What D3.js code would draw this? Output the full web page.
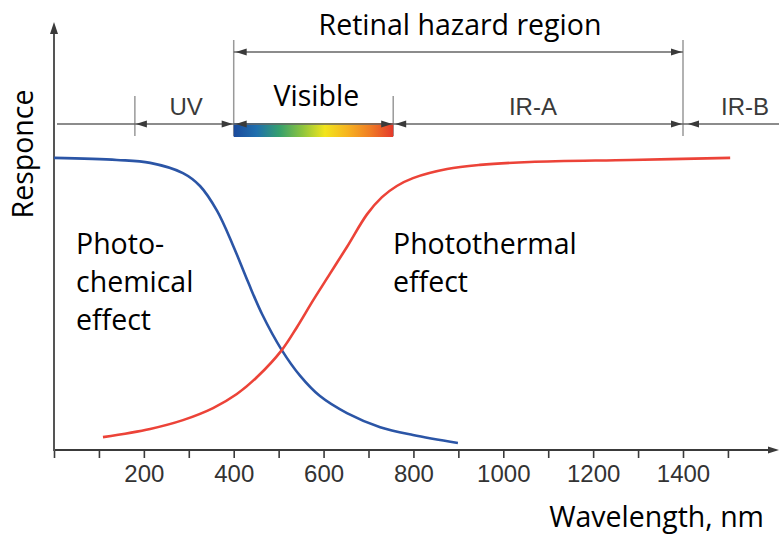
<!DOCTYPE html>
<html><head><meta charset="utf-8">
<script src="https://cdn.jsdelivr.net/npm/d3@7"></script>
<style>body{margin:0;background:#fff}</style>
</head><body><svg id="c" width="779" height="535"></svg>
<script>
// ---- data ----
const blueWavelength = [0, 140, 214, 287, 325, 363, 398, 432, 463, 507, 548, 592, 652, 726, 799, 899];
const blueResponse   = [99.7, 99.0, 98.0, 94.5, 90.1, 81.6, 70.0, 57.3, 46.4, 34.1, 25.3, 18.4, 12.6, 7.8, 5.1, 2.4];
const redWavelength  = [109, 214, 287, 354, 407, 452, 507, 541, 576, 614, 652, 697, 730, 763, 799, 875, 948, 1059, 1282, 1505];
const redResponse    = [4.4, 7.2, 10.2, 14.3, 19.1, 24.9, 34.1, 42.0, 50.9, 60.1, 69.3, 80.5, 86.3, 90.1, 92.8, 95.9, 97.3, 98.3, 99.0, 99.7];
const tickValues = [0, 100, 200, 300, 400, 500, 600, 700, 800, 900, 1000, 1100, 1200, 1300, 1400, 1500];
const tickLabels = ["", "", "200", "", "400", "", "600", "", "800", "", "1000", "", "1200", "", "1400", ""];
const regionBounds = [180, 400, 755, 1400];
const regionNames = ["UV", "Visible", "IR-A", "IR-B"];
const regionLabelAt = [294, 584, 1066, 1538];
const hazardRange = [400, 1400];
const spectrumStops = ["#1b4a9c", "#1f6fae", "#35a06e", "#8cc43e", "#f2e51c", "#f7b31f", "#f07c24", "#e4392b"];

// ---- layout ----
const svg = d3.select("#c");
const x = d3.scaleLinear().domain([0, 1400]).range([54, 683]);
const y = d3.scaleLinear().domain([0, 100]).range([450, 157]);
const axisY = 450, axisTop = 22, axisRight = 779;
const regionY = 124, hazardY = 52;
const dark = "#3a3a3a";

function arrow(tipX, tipY, dir, len = 11, hw = 3.6) {
  let p;
  if (dir === "left") p = [[tipX, tipY], [tipX + len, tipY - hw], [tipX + len, tipY + hw]];
  else if (dir === "right") p = [[tipX, tipY], [tipX - len, tipY - hw], [tipX - len, tipY + hw]];
  else if (dir === "up") p = [[tipX, tipY], [tipX - hw, tipY + len], [tipX + hw, tipY + len]];
  svg.append("path").attr("d", "M" + p.map(d => d.join(",")).join("L") + "Z").attr("fill", dark);
}

// gradient
const defs = svg.append("defs");
const grad = defs.append("linearGradient").attr("id", "spec").attr("x1", 0).attr("x2", 1).attr("y1", 0).attr("y2", 0);
spectrumStops.forEach((c, i) => grad.append("stop").attr("offset", i / (spectrumStops.length - 1)).attr("stop-color", c));

// x axis
const xAxis = d3.axisBottom(x).tickValues(tickValues).tickSize(8).tickPadding(7)
  .tickFormat((d, i) => tickLabels[i]);
const gx = svg.append("g").attr("transform", `translate(0,${axisY})`).call(xAxis);
gx.select(".domain").remove();
gx.selectAll(".tick line").attr("stroke", dark).attr("stroke-width", 1.6);
gx.selectAll(".tick text").attr("fill", "#333").style("font-family", "'Liberation Sans', Arial, sans-serif").style("font-size", "24px");
svg.append("line").attr("x1", x(0)).attr("x2", axisRight - 6).attr("y1", axisY).attr("y2", axisY)
  .attr("stroke", dark).attr("stroke-width", 2);
arrow(axisRight, axisY, "right");

// y axis
svg.append("line").attr("x1", x(0)).attr("x2", x(0)).attr("y1", axisY + 1).attr("y2", axisTop + 6)
  .attr("stroke", "#555").attr("stroke-width", 2);
arrow(x(0), axisTop, "up", 12, 4);

// region boundary verticals
const tall = [false, true, false, true];
regionBounds.forEach((b, i) => {
  svg.append("line").attr("x1", x(b)).attr("x2", x(b))
    .attr("y1", tall[i] ? 40 : 96).attr("y2", 136)
    .attr("stroke", "#999").attr("stroke-width", 1.5);
});

// spectrum bar
svg.append("rect").attr("x", x(regionBounds[1])).attr("y", regionY - 1)
  .attr("width", x(regionBounds[2]) - x(regionBounds[1])).attr("height", 14).attr("fill", "url(#spec)");

// region line
svg.append("line").attr("x1", x(0) + 3).attr("x2", axisRight).attr("y1", regionY).attr("y2", regionY)
  .attr("stroke", "#666").attr("stroke-width", 1.5);
arrow(x(regionBounds[0]) + 1, regionY, "left");
regionBounds.slice(1).forEach(b => {
  arrow(x(b) - 1, regionY, "right");
  arrow(x(b) + (b === 1400 ? 5 : 2), regionY, "left");
});

// hazard line
svg.append("line").attr("x1", x(hazardRange[0])).attr("x2", x(hazardRange[1])).attr("y1", hazardY).attr("y2", hazardY)
  .attr("stroke", "#666").attr("stroke-width", 1.5);
arrow(x(hazardRange[0]) + 2, hazardY, "left");
arrow(x(hazardRange[1]) - 1, hazardY, "right");

// region labels
regionNames.forEach((n, i) => {
  const vis = n === "Visible";
  svg.append("text").attr("x", x(regionLabelAt[i])).attr("y", vis ? 106 : 115)
    .attr("text-anchor", "middle")
    .style("font-family", vis ? "'Open Sans', sans-serif" : "'Liberation Sans', Arial, sans-serif")
    .style("font-size", vis ? "28.5px" : "24px")
    .attr("fill", vis ? "#000" : "#3a3a3a").text(n);
});

// curves
const line = d3.line().x(d => x(d[0])).y(d => y(d[1])).curve(d3.curveCatmullRom.alpha(0.5));
svg.append("path").datum(blueWavelength.map((w, i) => [w, blueResponse[i]]))
  .attr("d", line).attr("fill", "none").attr("stroke", "#2b55a6").attr("stroke-width", 2.6);
svg.append("path").datum(redWavelength.map((w, i) => [w, redResponse[i]]))
  .attr("d", line).attr("fill", "none").attr("stroke", "#ec4338").attr("stroke-width", 2.6);

// texts
function txt(s, tx, ty, anchor = "start") {
  return svg.append("text").attr("x", tx).attr("y", ty).attr("text-anchor", anchor).attr("fill", "#000")
    .style("font-family", "'Open Sans', sans-serif").style("font-size", "28.5px").text(s);
}
txt("Retinal hazard region", 460, 35, "middle");
txt("Photo-", 76, 254);
txt("chemical", 76, 292);
txt("effect", 76, 330);
txt("Photothermal", 393, 254);
txt("effect", 393, 292);
txt("Wavelength, nm", 764, 527, "end");
txt("Responce", 0, 0, "middle").attr("transform", "translate(33,154) rotate(-90)");
</script></body></html>
